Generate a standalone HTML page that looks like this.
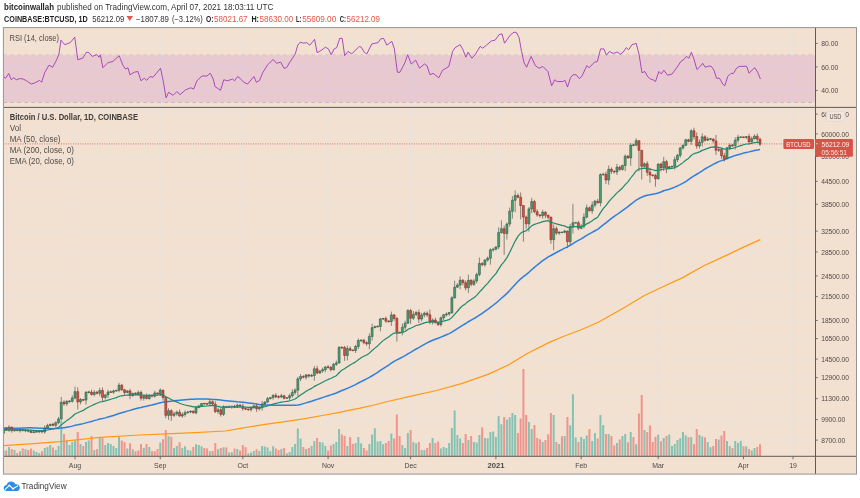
<!DOCTYPE html>
<html><head><meta charset="utf-8"><title>BTCUSD chart</title>
<style>
html,body{margin:0;padding:0;background:#fff}
body{width:860px;height:498px;position:relative;overflow:hidden;font-family:"Liberation Sans",sans-serif}
</style></head><body>
<svg width="860" height="498" viewBox="0 0 860 498" style="position:absolute;left:0;top:0">
<rect x="3.4" y="27.6" width="853.1" height="446.5" fill="#f2e0d0"/>
<path d="M75 27.6V456.3M160.28 27.6V456.3M242.81 27.6V456.3M328.09 27.6V456.3M410.62 27.6V456.3M495.9 27.6V456.3M581.18 27.6V456.3M658.21 27.6V456.3M743.49 27.6V456.3M793.01 27.6V456.3M3.4 114.05H815.5M3.4 133.9H815.5M3.4 156.59H815.5M3.4 181.29H815.5M3.4 204.26H815.5M3.4 231.12H815.5M3.4 251.95H815.5M3.4 275.93H815.5M3.4 296.64H815.5M3.4 320.47H815.5M3.4 338.61H815.5M3.4 359.1H815.5M3.4 377.64H815.5M3.4 398.64H815.5M3.4 419.61H815.5M3.4 440.1H815.5M3.4 43.4H815.5M3.4 66.9H815.5M3.4 90.4H815.5" stroke="#e9e2dd" stroke-width="1.15" fill="none"/>
<rect x="3.4" y="55.15" width="812.1" height="47" fill="rgba(175,40,215,0.12)"/>
<path d="M3.4 54.75H815.5" stroke="#cdc6ca" stroke-width="0.9" stroke-dasharray="3.5 3.5" fill="none"/>
<path d="M3.4 102.45H815.5" stroke="#b3b4c9" stroke-width="0.9" stroke-dasharray="3.5 3.5" fill="none"/>
<clipPath id="cp"><rect x="3.9" y="27.6" width="811.6" height="428.7"/></clipPath><g clip-path="url(#cp)">
<polyline fill="none" stroke="#a23bb8" stroke-width="0.9" stroke-linejoin="round" points="3.51,76.52 5.52,78.27 8.78,73.51 11.29,79.78 13.8,77.77 16.31,79.78 20.07,78.52 23.83,79.28 27.6,81.54 31.36,84.04 35.12,82.79 39.64,80.28 41.65,82.29 44.66,72.75 48.92,65.23 52.68,67.24 56.45,60.21 58.96,53.94 60.96,40.14 64.73,44.66 70.25,42.65 74.76,37.13 77.77,59.71 82.79,58.2 86.55,52.18 89.06,52.68 92.32,56.45 96.59,54.69 99.1,57.2 100.35,54.69 102.86,67.74 107.88,62.72 112.9,61.47 119.17,55.69 122.93,65.23 125.44,68.99 127.95,67.74 129.95,74.76 134.22,72.25 137.98,71.5 140.99,80.78 144.25,78.27 146.76,80.28 150.03,76.52 153.04,77.27 156.8,72.75 160.56,68.24 163.07,80.28 166.08,97.84 168.59,92.32 173.11,95.33 176.87,91.57 180.13,94.58 185.65,89.81 190.67,87.81 193.68,89.06 196.94,80.78 201.96,76.02 206.97,76.02 210.24,73.26 213.25,79.03 215,86.55 217.51,88.31 220.52,90.32 223.78,79.78 227.54,80.78 232.56,79.03 234.57,80.78 237.58,76.52 240.09,78.27 243.85,82.29 247.61,84.04 253.89,76.52 256.39,82.29 259.66,80.28 262.67,72.75 267.68,64.73 273.2,59.46 276.47,63.22 280.73,62.22 283.99,68.24 286.5,67.74 290.26,61.47 295.28,53.94 297.79,45.16 300.3,42.15 303.31,43.15 306.57,42.65 309.83,45.16 314.6,39.39 317.11,52.68 321.62,50.18 325.39,47.17 328.4,48.92 331.16,54.69 334.17,48.92 336.68,47.67 339.69,38.38 342.2,38.38 344.7,55.69 347.97,51.43 351.73,53.94 355.49,50.18 359.25,46.41 361.26,47.17 364.27,52.18 366.78,53.94 371.8,43.9 378.07,42.65 380.58,38.89 383.59,38.38 386.85,45.16 391.87,41.39 394.38,48.92 397.39,72.25 399.9,72.25 404.91,62.72 407.67,54.69 411.19,63.97 415.7,60.21 419.47,68.24 424.48,63.97 426.99,65.73 430,74.76 433.01,73.26 438.78,77.77 442.54,70.25 448.82,66.48 452.58,51.43 455.09,47.67 460.11,44.66 462.61,48.92 465.88,57.2 468.13,52.18 471.9,58.2 475.16,54.69 480.18,46.41 482.68,48.17 486.45,45.16 491.47,40.89 495.23,40.14 498.99,34.62 502,33.87 504.51,43.15 510.28,35.12 514.04,32.11 516.55,32.61 519.06,37.63 521.57,51.43 524.08,62.72 526.59,67.24 531.1,56.45 535.37,65.73 539.13,68.24 542.9,66.48 547.91,71.5 551.68,85.8 554.69,79.78 557.2,81.54 562.97,81.54 564.97,80.28 567.48,87.05 570.49,77.77 573,74.76 576.26,74.76 579.27,78.52 581.78,76.52 586.8,65.73 589.31,67.74 594.33,62.22 597.34,61.47 600.6,48.92 603.86,48.92 606.37,55.19 609.38,51.43 613.14,53.44 617.66,51.93 619.91,54.44 623.18,52.18 626.19,47.67 628.7,49.67 631.96,44.66 636.22,43.4 638.98,53.94 641.99,72.75 645,71.5 647.51,76.52 650.52,79.03 653.03,79.78 655.54,81.54 658.8,71.5 661.31,74.01 663.82,70.25 667.58,75.26 672.09,74.01 676.36,68.24 680.88,61.47 683.89,59.46 686.39,56.45 688.9,58.2 691.41,52.18 693.92,58.96 696.93,69.49 700.19,66.48 702.7,63.22 705.21,67.24 708.97,65.98 711.48,66.48 713.99,70.25 716.5,78.27 719.51,78.27 722.77,84.04 724.78,85.8 727.79,76.52 731.05,73.26 733.31,73.51 736.57,68.24 739.08,66.48 746.61,66.23 749.11,73.26 752.38,69.74 754.88,67.74 757.9,72.75 760.4,79.03"/>
<path d="M2.47 456.3v-6h2v6zM7.98 456.3v-9.4h2v9.4zM13.48 456.3v-6.2h2v6.2zM18.98 456.3v-5h2v5zM24.48 456.3v-7h2v7zM32.73 456.3v-5.8h2v5.8zM35.49 456.3v-4.4h2v4.4zM38.24 456.3v-3.4h2v3.4zM43.74 456.3v-8.4h2v8.4zM46.49 456.3v-9.4h2v9.4zM49.24 456.3v-11.4h2v11.4zM54.74 456.3v-6.4h2v6.4zM57.49 456.3v-10.4h2v10.4zM60.25 456.3v-36h2v36zM65.75 456.3v-15.8h2v15.8zM68.5 456.3v-11.4h2v11.4zM71.25 456.3v-14.4h2v14.4zM74 456.3v-15.8h2v15.8zM79.5 456.3v-12.4h2v12.4zM85 456.3v-14.4h2v14.4zM87.75 456.3v-15.8h2v15.8zM93.26 456.3v-6.4h2v6.4zM98.76 456.3v-19.4h2v19.4zM104.26 456.3v-11.4h2v11.4zM107.01 456.3v-13.4h2v13.4zM109.76 456.3v-12.4h2v12.4zM112.51 456.3v-10.4h2v10.4zM115.27 456.3v-8.4h2v8.4zM118.02 456.3v-20.4h2v20.4zM126.27 456.3v-7.8h2v7.8zM131.77 456.3v-7h2v7zM142.77 456.3v-8.4h2v8.4zM148.28 456.3v-9.4h2v9.4zM159.28 456.3v-13.8h2v13.8zM167.53 456.3v-20.4h2v20.4zM173.04 456.3v-8.4h2v8.4zM175.79 456.3v-10.4h2v10.4zM181.29 456.3v-8.4h2v8.4zM184.04 456.3v-10h2v10zM186.79 456.3v-6.4h2v6.4zM189.54 456.3v-5.8h2v5.8zM195.04 456.3v-12h2v12zM197.8 456.3v-11.4h2v11.4zM200.55 456.3v-10h2v10zM208.8 456.3v-5h2v5zM217.05 456.3v-7h2v7zM222.55 456.3v-9h2v9zM228.06 456.3v-3.8h2v3.8zM230.81 456.3v-4h2v4zM236.31 456.3v-7.4h2v7.4zM247.31 456.3v-3h2v3zM250.06 456.3v-3.8h2v3.8zM252.81 456.3v-5.4h2v5.4zM258.32 456.3v-5.4h2v5.4zM261.07 456.3v-10.4h2v10.4zM263.82 456.3v-9.8h2v9.8zM266.57 456.3v-8.8h2v8.8zM269.32 456.3v-5h2v5zM272.07 456.3v-10h2v10zM280.32 456.3v-7.4h2v7.4zM285.83 456.3v-3h2v3zM288.58 456.3v-4.4h2v4.4zM291.33 456.3v-9.4h2v9.4zM294.08 456.3v-12.4h2v12.4zM296.83 456.3v-27.8h2v27.8zM299.58 456.3v-17.8h2v17.8zM305.08 456.3v-7.4h2v7.4zM310.59 456.3v-10.4h2v10.4zM313.34 456.3v-15.4h2v15.4zM318.84 456.3v-14.4h2v14.4zM321.59 456.3v-13.8h2v13.8zM324.34 456.3v-10.4h2v10.4zM332.59 456.3v-12.4h2v12.4zM335.34 456.3v-14.4h2v14.4zM338.1 456.3v-27.4h2v27.4zM346.35 456.3v-10.4h2v10.4zM354.6 456.3v-13.4h2v13.4zM357.35 456.3v-19.4h2v19.4zM360.1 456.3v-13h2v13zM368.36 456.3v-12.4h2v12.4zM371.11 456.3v-21.8h2v21.8zM373.86 456.3v-28h2v28zM376.61 456.3v-14.8h2v14.8zM379.36 456.3v-15.4h2v15.4zM382.11 456.3v-12h2v12zM390.37 456.3v-22.8h2v22.8zM401.37 456.3v-11.4h2v11.4zM404.12 456.3v-8.4h2v8.4zM406.87 456.3v-23.4h2v23.4zM412.37 456.3v-14.4h2v14.4zM415.12 456.3v-13h2v13zM420.63 456.3v-6.4h2v6.4zM423.38 456.3v-6.4h2v6.4zM431.63 456.3v-18.4h2v18.4zM439.88 456.3v-7.8h2v7.8zM442.63 456.3v-9.4h2v9.4zM445.38 456.3v-8.4h2v8.4zM448.14 456.3v-13.4h2v13.4zM450.89 456.3v-28.4h2v28.4zM453.64 456.3v-45.8h2v45.8zM456.39 456.3v-21.4h2v21.4zM459.14 456.3v-17.8h2v17.8zM467.39 456.3v-16.4h2v16.4zM472.89 456.3v-14.4h2v14.4zM475.65 456.3v-13.8h2v13.8zM478.4 456.3v-21.4h2v21.4zM483.9 456.3v-18.4h2v18.4zM486.65 456.3v-18h2v18zM489.4 456.3v-24.4h2v24.4zM492.15 456.3v-24.8h2v24.8zM494.9 456.3v-19.4h2v19.4zM497.65 456.3v-40.4h2v40.4zM500.4 456.3v-32h2v32zM505.91 456.3v-36.8h2v36.8zM508.66 456.3v-39h2v39zM511.41 456.3v-43.4h2v43.4zM514.16 456.3v-41.4h2v41.4zM527.91 456.3v-34.4h2v34.4zM530.67 456.3v-27.4h2v27.4zM541.67 456.3v-14.4h2v14.4zM552.67 456.3v-41.4h2v41.4zM558.18 456.3v-12.4h2v12.4zM563.68 456.3v-20.4h2v20.4zM569.18 456.3v-31h2v31zM571.93 456.3v-62h2v62zM574.68 456.3v-18.8h2v18.8zM580.18 456.3v-19.4h2v19.4zM582.93 456.3v-17.4h2v17.4zM585.69 456.3v-20.8h2v20.8zM591.19 456.3v-15.4h2v15.4zM593.94 456.3v-23.4h2v23.4zM599.44 456.3v-41.4h2v41.4zM602.19 456.3v-31.4h2v31.4zM607.69 456.3v-22.4h2v22.4zM615.95 456.3v-13.4h2v13.4zM621.45 456.3v-20.4h2v20.4zM624.2 456.3v-22.4h2v22.4zM629.7 456.3v-24.4h2v24.4zM635.2 456.3v-12h2v12zM643.46 456.3v-26.4h2v26.4zM657.21 456.3v-21.6h2v21.6zM662.71 456.3v-18.4h2v18.4zM668.22 456.3v-21.8h2v21.8zM670.97 456.3v-10.4h2v10.4zM673.72 456.3v-12.4h2v12.4zM676.47 456.3v-16.4h2v16.4zM679.22 456.3v-18h2v18zM681.97 456.3v-24.4h2v24.4zM684.72 456.3v-21h2v21zM690.22 456.3v-19.4h2v19.4zM698.48 456.3v-21.4h2v21.4zM701.23 456.3v-19.8h2v19.8zM706.73 456.3v-14.4h2v14.4zM709.48 456.3v-9h2v9zM717.73 456.3v-16.8h2v16.8zM725.99 456.3v-15.4h2v15.4zM728.74 456.3v-10.4h2v10.4zM734.24 456.3v-15.4h2v15.4zM736.99 456.3v-13.4h2v13.4zM739.74 456.3v-15.4h2v15.4zM745.24 456.3v-10h2v10zM750.75 456.3v-5.8h2v5.8zM753.5 456.3v-8.4h2v8.4z" fill="#86c2b3"/>
<path d="M5.23 456.3v-5.8h2v5.8zM10.73 456.3v-7.4h2v7.4zM16.23 456.3v-3.4h2v3.4zM21.73 456.3v-7.8h2v7.8zM27.23 456.3v-6.4h2v6.4zM29.98 456.3v-7.8h2v7.8zM40.99 456.3v-5h2v5zM51.99 456.3v-8.8h2v8.8zM63 456.3v-22.4h2v22.4zM76.75 456.3v-24.4h2v24.4zM82.25 456.3v-10.4h2v10.4zM90.51 456.3v-20.4h2v20.4zM96.01 456.3v-7h2v7zM101.51 456.3v-18.4h2v18.4zM120.77 456.3v-15.8h2v15.8zM123.52 456.3v-14.4h2v14.4zM129.02 456.3v-13h2v13zM134.52 456.3v-5h2v5zM137.27 456.3v-5.8h2v5.8zM140.02 456.3v-12.4h2v12.4zM145.53 456.3v-12.4h2v12.4zM151.03 456.3v-5h2v5zM153.78 456.3v-5h2v5zM156.53 456.3v-7.4h2v7.4zM162.03 456.3v-17h2v17zM164.78 456.3v-26.4h2v26.4zM170.28 456.3v-19.4h2v19.4zM178.54 456.3v-14h2v14zM192.29 456.3v-9.4h2v9.4zM203.3 456.3v-8.4h2v8.4zM206.05 456.3v-7.8h2v7.8zM211.55 456.3v-5.4h2v5.4zM214.3 456.3v-13.4h2v13.4zM219.8 456.3v-8.4h2v8.4zM225.31 456.3v-8.8h2v8.8zM233.56 456.3v-7.8h2v7.8zM239.06 456.3v-5.8h2v5.8zM241.81 456.3v-11.4h2v11.4zM244.56 456.3v-9h2v9zM255.57 456.3v-7h2v7zM274.82 456.3v-7.8h2v7.8zM277.57 456.3v-6.4h2v6.4zM283.08 456.3v-8.4h2v8.4zM302.33 456.3v-9.4h2v9.4zM307.83 456.3v-8.4h2v8.4zM316.09 456.3v-18.4h2v18.4zM327.09 456.3v-5.8h2v5.8zM329.84 456.3v-10.8h2v10.8zM340.85 456.3v-21.8h2v21.8zM343.6 456.3v-20.4h2v20.4zM349.1 456.3v-19.4h2v19.4zM351.85 456.3v-12.4h2v12.4zM362.85 456.3v-8.4h2v8.4zM365.61 456.3v-5.8h2v5.8zM384.86 456.3v-13.4h2v13.4zM387.61 456.3v-15.4h2v15.4zM393.12 456.3v-17.8h2v17.8zM395.87 456.3v-41.8h2v41.8zM398.62 456.3v-20.4h2v20.4zM409.62 456.3v-26.4h2v26.4zM417.88 456.3v-14.4h2v14.4zM426.13 456.3v-8.4h2v8.4zM428.88 456.3v-13.4h2v13.4zM434.38 456.3v-13.4h2v13.4zM437.13 456.3v-14.8h2v14.8zM461.89 456.3v-13.4h2v13.4zM464.64 456.3v-22.4h2v22.4zM470.14 456.3v-20.4h2v20.4zM481.15 456.3v-29h2v29zM503.16 456.3v-39.4h2v39.4zM516.91 456.3v-23.4h2v23.4zM519.66 456.3v-37.8h2v37.8zM522.41 456.3v-87.4h2v87.4zM525.16 456.3v-41.4h2v41.4zM533.42 456.3v-31.4h2v31.4zM536.17 456.3v-18.4h2v18.4zM538.92 456.3v-17h2v17zM544.42 456.3v-16.4h2v16.4zM547.17 456.3v-22h2v22zM549.92 456.3v-43.4h2v43.4zM555.42 456.3v-14.4h2v14.4zM560.93 456.3v-20h2v20zM566.43 456.3v-39.4h2v39.4zM577.43 456.3v-14.4h2v14.4zM588.44 456.3v-27.4h2v27.4zM596.69 456.3v-17.8h2v17.8zM604.94 456.3v-22.4h2v22.4zM610.44 456.3v-20.4h2v20.4zM613.2 456.3v-10.8h2v10.8zM618.7 456.3v-16.8h2v16.8zM626.95 456.3v-14h2v14zM632.45 456.3v-19.4h2v19.4zM637.95 456.3v-42.8h2v42.8zM640.71 456.3v-61.4h2v61.4zM646.21 456.3v-24.4h2v24.4zM648.96 456.3v-30.8h2v30.8zM651.71 456.3v-14.4h2v14.4zM654.46 456.3v-19.6h2v19.6zM659.96 456.3v-15h2v15zM665.47 456.3v-20.4h2v20.4zM687.47 456.3v-19h2v19zM692.98 456.3v-12.4h2v12.4zM695.73 456.3v-27.4h2v27.4zM703.98 456.3v-18.8h2v18.8zM712.23 456.3v-10.4h2v10.4zM714.98 456.3v-17.4h2v17.4zM720.49 456.3v-20.8h2v20.8zM723.24 456.3v-25.4h2v25.4zM731.49 456.3v-8.4h2v8.4zM742.49 456.3v-10h2v10zM748 456.3v-7.4h2v7.4zM756.25 456.3v-9.4h2v9.4zM759 456.3v-12h2v12z" fill="#f0948d"/>
<polyline fill="none" stroke="#ff9a16" stroke-width="1.25" stroke-linejoin="round" points="3.5,445.6 30,443.8 60,441.6 100,437.4 140,435 172,433.6 195,432.6 225,431 245,427.6 265,424.4 285,421.6 305,418.6 325,415 337,412.8 350,410.2 360,408.2 374,405 385.6,402 411.2,396.2 436.7,390.5 462.3,383.4 487.9,374.4 508.4,365 526.3,354 549.3,342.4 564.6,336 580.5,330 598.4,322.3 624,307.7 644.4,295.5 662.3,287 682.8,277.6 703.3,266 723.7,256.6 744.2,246.9 760.3,239.6"/>
<polyline fill="none" stroke="#2f7fdc" stroke-width="1.5" stroke-linejoin="round" points="3.47,427.95 6.23,428.11 8.98,428.23 11.73,428.32 14.48,428.25 17.23,428.22 19.98,428.18 22.73,428.01 25.48,427.89 28.23,427.77 30.98,427.79 33.73,427.93 36.49,428.01 39.24,428.18 41.99,428.27 44.74,428.55 47.49,428.54 50.24,428.56 52.99,428.64 55.74,428.61 58.49,428.52 61.25,428.08 64,427.69 66.75,427.24 69.5,426.82 72.25,426.13 75,425.35 77.75,424.82 80.5,424.19 83.25,423.61 86,422.88 88.75,422.13 91.51,421.41 94.26,420.61 97.01,419.86 99.76,419.03 102.51,418.49 105.26,417.87 108.01,417.08 110.76,416.29 113.51,415.45 116.27,414.54 119.02,413.57 121.77,412.72 124.52,411.92 127.27,411.12 130.02,410.38 132.77,409.59 135.52,408.83 138.27,408.04 141.02,407.45 143.77,406.79 146.53,406.24 149.28,405.56 152.03,404.92 154.78,404.2 157.53,403.52 160.28,402.74 163.03,402.13 165.78,401.85 168.53,401.47 171.28,401.18 174.04,400.87 176.79,400.54 179.54,400.26 182.29,400.03 185.04,399.8 187.79,399.58 190.54,399.32 193.29,399.15 196.04,398.94 198.8,399.01 201.55,399.01 204.3,399.06 207.05,399.11 209.8,399.18 212.55,399.43 215.3,399.62 218.05,399.82 220.8,400.09 223.55,400.38 226.31,400.68 229.06,400.93 231.81,401.21 234.56,401.5 237.31,401.8 240.06,401.97 242.81,402.25 245.56,402.59 248.31,402.94 251.06,403.29 253.81,403.61 256.57,404.11 259.32,404.48 262.07,404.72 264.82,404.96 267.57,405.02 270.32,405.11 273.07,405.15 275.82,405.24 278.57,405.21 281.32,405.2 284.08,405.2 286.83,405.25 289.58,405.24 292.33,405.23 295.08,405.15 297.83,404.9 300.58,404.43 303.33,403.63 306.08,402.86 308.83,402.04 311.59,401.23 314.34,400.31 317.09,399.41 319.84,398.5 322.59,397.6 325.34,396.66 328.09,395.74 330.84,394.85 333.59,393.94 336.34,393.02 339.1,391.77 341.85,390.52 344.6,389.48 347.35,388.32 350.1,387.16 352.85,385.89 355.6,384.56 358.35,383.01 361.1,381.59 363.85,380.23 366.61,378.93 369.36,377.46 372.11,375.76 374.86,374.08 377.61,372.39 380.36,370.49 383.11,368.59 385.86,366.77 388.61,365.01 391.37,363.12 394.12,361.31 396.87,359.88 399.62,358.52 402.37,357.07 405.12,355.59 407.87,353.82 410.62,352.29 413.37,350.67 416.12,349.01 418.88,347.55 421.63,345.97 424.38,344.36 427.13,342.84 429.88,341.55 432.63,340.26 435.38,339.2 438.13,338.23 440.88,337.11 443.63,335.96 446.38,334.79 449.14,333.6 451.89,332.17 454.64,330.42 457.39,328.66 460.14,326.82 462.89,325.1 465.64,323.52 468.39,321.74 471.14,320.16 473.89,318.53 476.65,316.99 479.4,315.18 482.15,313.29 484.9,311.4 487.65,309.47 490.4,307.31 493.15,305.23 495.9,303.2 498.65,300.78 501.4,298.24 504.16,295.87 506.91,293.35 509.66,290.61 512.41,287.56 515.16,284.41 517.91,281.49 520.66,278.9 523.41,276.66 526.16,274.64 528.91,272.32 531.67,269.75 534.42,267.33 537.17,265.04 539.92,262.86 542.67,260.68 545.42,258.79 548.17,256.85 550.92,255.53 553.67,254 556.42,252.49 559.18,251.03 561.93,249.61 564.68,248.16 567.43,246.85 570.18,245.26 572.93,243.56 575.68,241.86 578.43,240.37 581.18,238.9 583.93,237.24 586.69,235.41 589.44,233.85 592.19,232.32 594.94,230.74 597.69,229.29 600.44,227.09 603.19,224.85 605.94,222.89 608.69,220.61 611.44,218.46 614.2,216.45 616.95,214.49 619.7,212.6 622.45,210.69 625.2,208.58 627.95,206.67 630.7,204.44 633.45,202.27 636.2,200.22 638.95,198.54 641.71,197.2 644.46,195.97 647.21,195.17 649.96,194.64 652.71,194.21 655.46,193.83 658.21,192.95 660.96,191.96 663.71,190.72 666.47,189.9 669.22,189.18 671.97,188.27 674.72,187.16 677.47,185.94 680.22,184.6 682.97,183.16 685.72,181.56 688.47,179.68 691.22,177.7 693.98,175.84 696.73,174.24 699.48,172.57 702.23,170.8 704.98,168.99 707.73,167.37 710.48,165.82 713.23,164.33 715.98,162.99 718.73,161.67 721.49,160.62 724.24,159.77 726.99,158.65 729.74,157.57 732.49,156.56 735.24,155.41 737.99,154.67 740.74,153.93 743.49,153.1 746.24,152.45 749,151.87 751.75,151.22 754.5,150.6 757.25,150.01 760,149.6"/>
<path d="M3.4 143.9H815.5" stroke="#e0675e" stroke-width="0.9" stroke-dasharray="1 1.4" fill="none"/>
<path d="M3.47 426.92V434.6M8.98 425.23V431.82M14.48 429.29V431.74M19.98 428.32V432.52M25.48 429.13V432.18M33.73 430.49V433.14M36.49 431.15V432.51M39.24 430.21V433.28M44.74 425.34V433.72M47.49 423.72V428.66M50.24 423.75V426.33M55.74 421.36V427.33M58.49 416.97V424.26M61.25 396.96V419.77M66.75 400.2V405.78M69.5 400.3V402.74M72.25 395.31V402.7M75 386.68V399.4M80.5 398.06V404.2M86 391V404.57M88.75 390.79V393.38M94.26 390.16V396.36M99.76 387.81V396.33M105.26 394.2V399.61M108.01 389.73V398.08M113.51 389.78V393.82M116.27 389.92V391.95M119.02 382.89V392.18M127.27 390.22V393.3M132.77 392.72V396.93M138.27 390.51V395.85M143.77 395.02V400.61M149.28 394.21V399.76M154.78 390.68V397.56M160.28 388.37V396.07M168.53 408.18V419.93M174.04 411.74V417.08M176.79 410.66V415.69M182.29 412.34V417.92M185.04 410.35V416.65M187.79 410.89V413.64M190.54 410.59V413.25M196.04 405.98V414.32M198.8 404.84V408.15M201.55 403.02V406.86M209.8 399.91V404.68M218.05 407.69V413.96M223.55 405.19V415.94M229.06 405.26V408.03M231.81 405.79V408.68M237.31 403.52V407.94M251.06 406.17V411.62M253.81 404.73V408.68M259.32 405.89V410.57M262.07 400.91V410.64M264.82 401.16V405.57M267.57 396.99V402.85M270.32 397.15V399.52M273.07 394.28V399.68M281.32 393.7V398.02M286.83 397.09V398.94M289.58 393.89V400.19M292.33 389.44V397.7M295.08 388.19V394.71M297.83 376.82V396.13M300.58 374.02V381.2M306.08 373.96V379.57M311.59 373.85V376.89M314.34 366.05V380.81M319.84 370.11V373.89M322.59 367.64V372.78M325.34 366.01V372.32M333.59 362.99V370.58M336.34 360.68V365.99M339.1 345.99V363.65M347.35 345.73V360.35M355.6 345V352.96M358.35 338.55V349.06M361.1 339.65V342.09M369.36 333.46V349.22M372.11 323.78V340.6M374.86 325.47V328.07M377.61 325.49V327.29M380.36 317.83V331.34M383.11 318.03V319.92M391.37 311.57V325.93M402.37 323.52V335.35M405.12 320.7V330.32M407.87 309.22V323.94M413.37 311.06V320.18M416.12 310.82V315.96M421.63 312.87V321.51M424.38 311.67V317.46M432.63 318.42V324.53M440.88 316.52V326.62M443.63 313.99V320.23M446.38 312.33V316.62M449.14 311.9V315.73M451.89 296.2V313.92M454.64 280.72V298.64M457.39 283.1V287.98M460.14 276.36V289.28M468.39 274.71V292.91M473.89 278.92V285.96M476.65 272.79V283.32M479.4 257.53V276.19M484.9 259.2V266.75M487.65 256.53V261.58M490.4 248.36V264.68M493.15 247.7V251.72M495.9 246.2V250.38M498.65 227.26V249.19M501.4 220.28V233.58M506.91 222.42V239.49M509.66 207.59V226.61M512.41 196.15V218.67M515.16 190.46V212.28M528.91 206.96V231.71M531.67 197.93V213.27M542.67 209.71V218.62M553.67 224.43V250.29M559.18 231.12V234.92M561.93 231.73V232.79M564.68 229.76V233.19M570.18 223.97V245.02M572.93 203.84V233.58M575.68 222.4V223.35M581.18 224.1V229.34M583.93 213.15V228.48M586.69 204.59V218.52M592.19 201.39V213.83M594.94 199.93V207.23M600.44 173.3V206.33M603.19 172.86V175.59M608.69 165.4V184.77M616.95 163.95V174.97M622.45 164.66V170.55M625.2 154.44V171.11M630.7 142.85V165.88M633.45 143.77V146.24M636.2 138.32V146.26M644.46 162.53V167.49M658.21 163.29V179.52M663.71 156.89V171M669.22 165.84V169.21M671.97 166V167.72M674.72 156.64V169.55M677.47 153.99V162.05M680.22 146.89V157.71M682.97 144.47V149.56M685.72 138.8V146.22M691.22 129.21V144.84M699.48 139.47V148.6M702.23 133.3V146.56M707.73 136.83V140.92M710.48 137.83V140.09M718.73 148.08V151.96M726.99 147.27V159.05M729.74 143.55V150.22M735.24 137.31V149.54M737.99 134.87V142.67M740.74 136.51V137.58M746.24 136.1V138.99M751.75 136.49V144.17M754.5 134.43V139.3" stroke="#6a6f69" stroke-width="0.8" fill="none"/>
<path d="M6.23 427.09V430.82M11.73 426.43V432.7M17.23 429.24V431.17M22.73 428.86V431.36M28.23 428.94V432.36M30.98 429.21V432.88M41.99 430.37V433.2M52.99 422.73V426.45M64 400.16V405.7M77.75 387.4V409.53M83.25 398.98V401.2M91.51 389.58V395.75M97.01 390.85V394.52M102.51 387.5V401.28M110.76 390.58V392.86M121.77 383.89V390.92M124.52 389.07V394.81M130.02 388.88V399.09M135.52 392.29V395.39M141.02 390.52V400.7M146.53 393.63V399.36M152.03 394.55V397.38M157.53 392.54V394.78M163.03 389.77V400.62M165.78 396.27V418.18M171.28 409.23V420.9M179.54 409.54V416.81M193.29 410.52V413.48M204.3 403.11V404.57M207.05 403.45V405.26M212.55 400.68V405.29M215.3 401.29V413.12M220.8 407.58V416.68M226.31 405.8V408.22M234.56 404.84V408.04M240.06 403.99V408.1M242.81 403.6V410.63M245.56 407.72V410.08M248.31 408.6V410.95M256.57 403.26V411.9M275.82 393.11V398.21M278.57 395.42V398.52M284.08 394.72V399.38M303.33 375.12V378.29M308.83 373.93V377.79M317.09 365.82V374.3M328.09 365.24V368.62M330.84 366.03V371.46M341.85 346.55V349.03M344.6 345.89V360.86M350.1 346.57V351.09M352.85 349.58V351.13M363.85 338.78V344.29M366.61 341.23V345.79M385.86 316.36V322.93M388.61 320.27V322.58M394.12 313.95V320.79M396.87 316.99V341.52M399.62 331.87V333.23M410.62 308.78V323.94M418.88 309.52V322.98M427.13 311.31V317M429.88 309.65V324.22M435.38 317.55V323.51M438.13 321.89V325.97M462.89 279.13V285.53M465.64 280.5V290.37M471.14 279.17V286.39M482.15 262.13V266.02M504.16 225.61V254.75M517.91 193.48V198.23M520.66 192.55V219.37M523.41 205.21V241.71M526.16 215.53V228.69M534.42 199.8V213.27M537.17 209.16V216.69M539.92 214.42V217.51M545.42 211.32V218.15M548.17 214.63V219.48M550.92 216.67V243.81M556.42 226.52V234.92M567.43 230.63V248.1M578.43 220.77V230.2M589.44 206.56V211.41M597.69 198.91V203.49M605.94 171.59V184.14M611.44 167.33V173.89M614.2 170.4V173.6M619.7 165.71V170.77M627.95 155.15V158.68M638.95 140.51V171.28M641.71 150.02V179.52M647.21 161.16V175.78M649.96 167.8V182.72M652.71 174.43V176.51M655.46 173.81V186.73M660.96 162.65V171.31M666.47 159.77V173.12M688.47 138.8V142.23M693.98 127.66V139.5M696.73 132.32V148.85M704.98 135.13V141.78M713.23 138.43V143.19M715.98 134.99V155M721.49 148.12V158.69M724.24 152.82V161.55M732.49 143.92V146.79M743.49 136.62V138.11M749 133.85V144.82M757.25 133.5V141.8M760 137.56V145.95" stroke="#75635e" stroke-width="0.8" fill="none"/>
<path d="M2.47 428.76h2V433.32h-2zM7.98 427.22h2V430.24h-2zM13.48 429.73h2V430.64h-2zM18.98 429.48h2V430.64h-2zM24.48 430.08h2V430.78h-2zM32.73 431.86h2V432.56h-2zM35.49 431.5h2V432.2h-2zM38.24 431h2V431.7h-2zM43.74 427.97h2V431.88h-2zM46.49 425.54h2V427.97h-2zM49.24 424.28h2V425.54h-2zM54.74 422.69h2V425.32h-2zM57.49 418.97h2V422.69h-2zM60.25 402.19h2V418.97h-2zM65.75 401.33h2V403.85h-2zM68.5 400.94h2V401.64h-2zM71.25 397.94h2V401.26h-2zM74 391.64h2V397.94h-2zM79.5 399.55h2V401.9h-2zM85 392.31h2V400.12h-2zM87.75 391.86h2V392.56h-2zM93.26 392.24h2V394.48h-2zM98.76 390.5h2V393.33h-2zM104.26 394.89h2V397.38h-2zM107.01 391.98h2V394.89h-2zM112.51 390.9h2V392.18h-2zM115.27 390.25h2V390.95h-2zM118.02 385.19h2V390.3h-2zM126.27 390.9h2V392.38h-2zM131.77 393.39h2V395.44h-2zM137.27 392.45h2V393.8h-2zM142.77 396.27h2V398.22h-2zM148.28 395.31h2V398.5h-2zM153.78 392.92h2V396.2h-2zM159.28 390.1h2V393.73h-2zM167.53 410.74h2V415.35h-2zM173.04 413.95h2V415.35h-2zM175.79 412.18h2V413.95h-2zM181.29 414.49h2V415.97h-2zM184.04 412.64h2V414.49h-2zM186.79 411.88h2V412.64h-2zM189.54 411.12h2V411.88h-2zM195.04 407.59h2V412.87h-2zM197.8 405.96h2V407.59h-2zM200.55 403.56h2V405.96h-2zM208.8 401.76h2V403.85h-2zM217.05 409.83h2V411.5h-2zM222.55 406.7h2V414.34h-2zM228.06 406.79h2V407.49h-2zM230.81 406.16h2V406.86h-2zM236.31 405.23h2V407.36h-2zM250.06 407.74h2V409.53h-2zM252.81 405.89h2V407.74h-2zM258.32 407.74h2V408.78h-2zM261.07 403.99h2V407.74h-2zM263.82 402.12h2V403.99h-2zM266.57 398.64h2V402.12h-2zM269.32 397.59h2V398.64h-2zM272.07 395.38h2V397.59h-2zM280.32 395.79h2V396.96h-2zM285.83 397.66h2V398.36h-2zM288.58 395.72h2V397.73h-2zM291.33 392.38h2V395.72h-2zM294.08 390.17h2V392.38h-2zM296.83 378.87h2V390.17h-2zM299.58 376.6h2V378.87h-2zM305.08 374.9h2V377.21h-2zM310.59 375.43h2V376.13h-2zM313.34 368.8h2V375.56h-2zM318.84 370.9h2V373.04h-2zM321.59 369.67h2V370.9h-2zM324.34 366.95h2V369.67h-2zM332.59 364.33h2V369.67h-2zM335.34 362.92h2V364.33h-2zM338.1 347.51h2V362.92h-2zM346.35 348.63h2V355.43h-2zM354.6 346.44h2V350.43h-2zM357.35 340.5h2V346.44h-2zM360.1 339.98h2V340.68h-2zM368.36 336.46h2V343.79h-2zM371.11 327.66h2V336.46h-2zM373.86 326.72h2V327.66h-2zM376.61 326.21h2V326.91h-2zM379.36 318.93h2V326.41h-2zM382.11 318.41h2V319.11h-2zM390.37 314.91h2V321.5h-2zM401.37 327.21h2V332.58h-2zM404.12 323.15h2V327.21h-2zM406.87 310.5h2V323.15h-2zM412.37 314.42h2V318.17h-2zM415.12 312.57h2V314.42h-2zM420.63 314.99h2V319.1h-2zM423.38 313.14h2V314.99h-2zM431.63 320.08h2V322.02h-2zM439.88 317.83h2V324.55h-2zM442.63 314.79h2V317.83h-2zM445.38 313.96h2V314.79h-2zM448.14 312.61h2V313.96h-2zM450.89 297.75h2V312.61h-2zM453.64 287.16h2V297.75h-2zM456.39 285.05h2V287.16h-2zM459.14 280.19h2V285.05h-2zM467.39 280.36h2V287.82h-2zM472.89 280.99h2V284.37h-2zM475.65 274.57h2V280.99h-2zM478.4 263.54h2V274.57h-2zM483.9 260.05h2V264.81h-2zM486.65 258.27h2V260.05h-2zM489.4 249.87h2V258.27h-2zM492.15 249.21h2V249.91h-2zM494.9 246.96h2V249.24h-2zM497.65 232.59h2V246.96h-2zM500.4 228.7h2V232.59h-2zM505.91 223.97h2V233.58h-2zM508.66 211.2h2V223.97h-2zM511.41 200.27h2V211.2h-2zM514.16 195.56h2V200.27h-2zM527.91 208.89h2V223.78h-2zM530.67 201.6h2V208.89h-2zM541.67 212.15h2V215.65h-2zM552.67 228.7h2V239.64h-2zM558.18 232.34h2V233.08h-2zM560.93 231.99h2V232.69h-2zM563.68 231.12h2V232.34h-2zM569.18 226.79h2V241.71h-2zM571.93 222.8h2V226.79h-2zM574.68 222.43h2V223.13h-2zM580.18 226.22h2V228.22h-2zM582.93 217.12h2V226.22h-2zM585.69 207.8h2V217.12h-2zM591.19 205.08h2V210.77h-2zM593.94 201.2h2V205.08h-2zM599.44 174.66h2V202.82h-2zM602.19 174.14h2V174.84h-2zM607.69 169.28h2V180.05h-2zM615.95 167.15h2V171.95h-2zM621.45 165.53h2V169.45h-2zM624.2 156.13h2V165.53h-2zM629.7 145.12h2V157.88h-2zM632.45 144.77h2V145.47h-2zM635.2 140.65h2V145.12h-2zM643.46 163.77h2V166.34h-2zM657.21 164.08h2V178.81h-2zM662.71 161.7h2V167.8h-2zM668.22 166.83h2V168.13h-2zM670.97 166.23h2V166.93h-2zM673.72 159.67h2V166.34h-2zM676.47 155.38h2V159.67h-2zM679.22 147.99h2V155.38h-2zM681.97 145.27h2V147.99h-2zM684.72 139.82h2V145.27h-2zM690.22 130.76h2V141.34h-2zM698.48 142.31h2V145.98h-2zM701.23 136.83h2V142.31h-2zM706.73 139h2V140.24h-2zM709.48 138.65h2V139.35h-2zM717.73 149.58h2V150.31h-2zM725.99 147.7h2V158.74h-2zM728.74 145.27h2V147.7h-2zM734.24 140.24h2V145.41h-2zM736.99 137.24h2V140.24h-2zM739.74 136.82h2V137.52h-2zM745.24 136.62h2V137.32h-2zM750.75 138.73h2V141.76h-2zM753.5 136.16h2V138.73h-2z" fill="#4aa074" stroke="#1f4d39" stroke-width="0.5"/>
<path d="M5.23 428.76h2V430.24h-2zM10.73 427.22h2V430.64h-2zM16.23 429.73h2V430.64h-2zM21.73 429.48h2V430.57h-2zM27.23 430.3h2V431.29h-2zM29.98 431.29h2V432.4h-2zM40.99 431.03h2V431.88h-2zM51.99 424.28h2V425.32h-2zM63 402.19h2V403.85h-2zM76.75 391.64h2V401.9h-2zM82.25 399.49h2V400.19h-2zM90.51 392.11h2V394.48h-2zM96.01 392.24h2V393.33h-2zM101.51 390.5h2V397.38h-2zM109.76 391.73h2V392.43h-2zM120.77 385.19h2V389.77h-2zM123.52 389.77h2V392.38h-2zM129.02 390.9h2V395.44h-2zM134.52 393.25h2V393.95h-2zM140.02 392.45h2V398.22h-2zM145.53 396.27h2V398.5h-2zM151.03 395.31h2V396.2h-2zM156.53 392.92h2V393.73h-2zM162.03 390.1h2V397.38h-2zM164.78 397.38h2V415.35h-2zM170.28 410.74h2V415.35h-2zM178.54 412.18h2V415.97h-2zM192.29 411.12h2V412.87h-2zM203.3 403.31h2V404.01h-2zM206.05 403.46h2V404.16h-2zM211.55 401.76h2V403.99h-2zM214.3 403.99h2V411.5h-2zM219.8 409.83h2V414.34h-2zM225.31 406.7h2V407.44h-2zM233.56 406.18h2V407.36h-2zM239.06 405.23h2V406.11h-2zM241.81 406.11h2V408.48h-2zM244.56 408.47h2V409.17h-2zM247.31 408.99h2V409.69h-2zM255.57 405.89h2V408.78h-2zM274.82 395.38h2V396.89h-2zM277.57 396.58h2V397.28h-2zM283.08 395.79h2V398.29h-2zM302.33 376.56h2V377.26h-2zM307.83 374.9h2V375.99h-2zM316.09 368.8h2V373.04h-2zM327.09 366.8h2V367.5h-2zM329.84 367.35h2V369.67h-2zM340.85 347.18h2V347.88h-2zM343.6 347.56h2V355.43h-2zM349.1 348.63h2V350.22h-2zM351.85 349.98h2V350.68h-2zM362.85 340.16h2V342.65h-2zM365.61 342.65h2V343.79h-2zM384.86 318.59h2V321.07h-2zM387.61 320.94h2V321.64h-2zM393.12 314.91h2V318.51h-2zM395.87 318.51h2V332.48h-2zM398.62 332.18h2V332.88h-2zM409.62 310.5h2V318.17h-2zM417.88 312.57h2V319.1h-2zM426.13 313.14h2V314.79h-2zM428.88 314.79h2V322.02h-2zM434.38 320.08h2V322.63h-2zM437.13 322.63h2V324.55h-2zM461.89 280.19h2V282.7h-2zM464.64 282.7h2V287.82h-2zM470.14 280.36h2V284.37h-2zM481.15 263.54h2V264.81h-2zM503.16 228.7h2V233.58h-2zM516.91 195.56h2V197.25h-2zM519.66 197.25h2V205.54h-2zM522.41 205.54h2V217.12h-2zM525.16 217.12h2V223.78h-2zM533.42 201.6h2V211.63h-2zM536.17 211.63h2V214.9h-2zM538.92 214.9h2V215.65h-2zM544.42 212.15h2V215.25h-2zM547.17 215.25h2V217.16h-2zM549.92 217.16h2V239.64h-2zM555.42 228.7h2V233.08h-2zM566.43 231.12h2V241.71h-2zM577.43 222.76h2V228.22h-2zM588.44 207.8h2V210.77h-2zM596.69 201.2h2V202.82h-2zM604.94 174.32h2V180.05h-2zM610.44 169.28h2V171.28h-2zM613.2 171.26h2V171.96h-2zM618.7 167.15h2V169.45h-2zM626.95 156.13h2V157.88h-2zM637.95 140.65h2V150.31h-2zM640.71 150.31h2V166.34h-2zM646.21 163.77h2V172.29h-2zM648.96 172.29h2V175h-2zM651.71 174.91h2V175.61h-2zM654.46 175.52h2V178.81h-2zM659.96 164.08h2V167.8h-2zM665.47 161.7h2V168.13h-2zM687.47 139.82h2V141.34h-2zM692.98 130.76h2V136.57h-2zM695.73 136.57h2V145.98h-2zM703.98 136.83h2V140.24h-2zM712.23 139h2V140.92h-2zM714.98 140.92h2V150.31h-2zM720.49 149.58h2V155.68h-2zM723.24 155.68h2V158.74h-2zM731.49 144.99h2V145.69h-2zM742.49 136.86h2V137.56h-2zM748 136.62h2V141.76h-2zM756.25 136.16h2V139.22h-2zM759 139.22h2V144.24h-2z" fill="#d9503f" stroke="#74271f" stroke-width="0.5"/>
<polyline fill="none" stroke="#1f8a70" stroke-width="1.2" stroke-linejoin="round" points="3.47,429.89 6.23,429.93 8.98,429.67 11.73,429.76 14.48,429.76 17.23,429.84 19.98,429.81 22.73,429.88 25.48,429.92 28.23,430.05 30.98,430.27 33.73,430.44 36.49,430.55 39.24,430.6 41.99,430.72 44.74,430.46 47.49,429.98 50.24,429.43 52.99,429.03 55.74,428.42 58.49,427.49 61.25,424.9 64,422.77 66.75,420.6 69.5,418.65 72.25,416.56 75,414.01 77.75,412.82 80.5,411.5 83.25,410.38 86,408.57 88.75,406.93 91.51,405.7 94.26,404.37 97.01,403.28 99.76,402.02 102.51,401.57 105.26,400.92 108.01,400.05 110.76,399.28 113.51,398.47 116.27,397.67 119.02,396.44 121.77,395.79 124.52,395.46 127.27,395.02 130.02,395.06 132.77,394.9 135.52,394.8 138.27,394.57 141.02,394.92 143.77,395.04 146.53,395.37 149.28,395.36 152.03,395.44 154.78,395.2 157.53,395.06 160.28,394.58 163.03,394.85 165.78,396.69 168.53,397.97 171.28,399.55 174.04,400.87 176.79,401.91 179.54,403.2 182.29,404.24 185.04,405.02 187.79,405.66 190.54,406.17 193.29,406.8 196.04,406.87 198.8,406.79 201.55,406.48 204.3,406.22 207.05,405.99 209.8,405.58 212.55,405.43 215.3,406 218.05,406.36 220.8,407.1 223.55,407.06 226.31,407.1 229.06,407.07 231.81,406.99 234.56,407.02 237.31,406.85 240.06,406.78 242.81,406.94 245.56,407.15 248.31,407.38 251.06,407.41 253.81,407.27 256.57,407.41 259.32,407.44 262.07,407.11 264.82,406.63 267.57,405.85 270.32,405.04 273.07,404.1 275.82,403.4 278.57,402.77 281.32,402.09 284.08,401.73 286.83,401.34 289.58,400.8 292.33,399.98 295.08,399.02 297.83,396.98 300.58,394.93 303.33,393.15 306.08,391.32 308.83,389.79 311.59,388.38 314.34,386.41 317.09,385.09 319.84,383.68 322.59,382.29 325.34,380.76 328.09,379.44 330.84,378.48 333.59,377.08 336.34,375.67 339.1,372.76 341.85,370.18 344.6,368.72 347.35,366.69 350.1,365.05 352.85,363.59 355.6,361.88 358.35,359.71 361.1,357.74 363.85,356.24 366.61,355.01 369.36,353.15 372.11,350.54 374.86,348.11 377.61,345.91 380.36,343.13 383.11,340.63 385.86,338.66 388.61,336.94 391.37,334.7 394.12,333.09 396.87,333.03 399.62,332.99 402.37,332.43 405.12,331.52 407.87,329.4 410.62,328.29 413.37,326.92 416.12,325.49 418.88,324.87 421.63,323.91 424.38,322.85 427.13,322.06 429.88,322.06 432.63,321.87 435.38,321.94 438.13,322.19 440.88,321.77 443.63,321.09 446.38,320.4 449.14,319.64 451.89,317.42 454.64,314.27 457.39,311.25 460.14,308.01 462.89,305.42 465.64,303.66 468.39,301.29 471.14,299.59 473.89,297.73 476.65,295.37 479.4,292.05 482.15,289.24 484.9,286.22 487.65,283.33 490.4,279.83 493.15,276.64 495.9,273.57 498.65,269.17 501.4,264.84 504.16,261.59 506.91,257.59 509.66,252.54 512.41,246.75 515.16,241.1 517.91,236.36 520.66,233.15 523.41,231.55 526.16,230.8 528.91,228.58 531.67,225.8 534.42,224.39 537.17,223.47 539.92,222.7 542.67,221.67 545.42,221.05 548.17,220.67 550.92,222.38 553.67,222.97 556.42,223.91 559.18,224.69 561.93,225.41 564.68,225.94 567.43,227.38 570.18,227.32 572.93,226.89 575.68,226.49 578.43,226.65 581.18,226.61 583.93,225.68 586.69,223.89 589.44,222.59 592.19,220.84 594.94,218.86 597.69,217.26 600.44,212.67 603.19,208.59 605.94,205.64 608.69,201.8 611.44,198.62 614.2,195.88 616.95,192.91 619.7,190.52 622.45,187.96 625.2,184.64 627.95,181.89 630.7,178 633.45,174.55 636.2,170.99 638.95,168.9 641.71,168.66 644.46,168.19 647.21,168.57 649.96,169.17 652.71,169.77 655.46,170.61 658.21,169.97 660.96,169.77 663.71,168.98 666.47,168.9 669.22,168.7 671.97,168.47 674.72,167.61 677.47,166.41 680.22,164.56 682.97,162.62 685.72,160.3 688.47,158.39 691.22,155.54 693.98,153.63 696.73,152.89 699.48,151.85 702.23,150.36 704.98,149.37 707.73,148.35 710.48,147.43 713.23,146.8 715.98,147.13 718.73,147.37 721.49,148.14 724.24,149.12 726.99,148.98 729.74,148.62 732.49,148.32 735.24,147.53 737.99,146.52 740.74,145.6 743.49,144.79 746.24,143.99 749,143.78 751.75,143.29 754.5,142.6 757.25,142.27 760,142.46"/>
</g>
<path d="M815.5 27.6V474.1M3.4 107.4H856.5M3.4 456.3H856.5" stroke="#5e5a58" stroke-width="1" fill="none"/>
<path d="M815.5 114.05h2.3M815.5 133.9h2.3M815.5 156.59h2.3M815.5 181.29h2.3M815.5 204.26h2.3M815.5 231.12h2.3M815.5 251.95h2.3M815.5 275.93h2.3M815.5 296.64h2.3M815.5 320.47h2.3M815.5 338.61h2.3M815.5 359.1h2.3M815.5 377.64h2.3M815.5 398.64h2.3M815.5 419.61h2.3M815.5 440.1h2.3M815.5 43.4h2.3M815.5 66.9h2.3M815.5 90.4h2.3M75 456.3v3M160.28 456.3v3M242.81 456.3v3M328.09 456.3v3M410.62 456.3v3M495.9 456.3v3M581.18 456.3v3M658.21 456.3v3M743.49 456.3v3M793.01 456.3v3" stroke="#5e5a58" stroke-width="0.8" fill="none"/>
<rect x="3.4" y="27.6" width="853.1" height="446.5" fill="none" stroke="#979594" stroke-width="1"/>
<g style="font-family:'Liberation Sans',sans-serif">
<text x="821.2" y="116.65" font-size="7.9" fill="#4f4a47" textLength="27.8" lengthAdjust="spacingAndGlyphs">68000.00</text>
<text x="821.2" y="136.5" font-size="7.9" fill="#4f4a47" textLength="27.8" lengthAdjust="spacingAndGlyphs">60000.00</text>
<text x="821.2" y="159.19" font-size="7.9" fill="#4f4a47" textLength="27.8" lengthAdjust="spacingAndGlyphs">52000.00</text>
<text x="821.2" y="183.89" font-size="7.9" fill="#4f4a47" textLength="27.8" lengthAdjust="spacingAndGlyphs">44500.00</text>
<text x="821.2" y="206.86" font-size="7.9" fill="#4f4a47" textLength="27.8" lengthAdjust="spacingAndGlyphs">38500.00</text>
<text x="821.2" y="233.72" font-size="7.9" fill="#4f4a47" textLength="27.8" lengthAdjust="spacingAndGlyphs">32500.00</text>
<text x="821.2" y="254.55" font-size="7.9" fill="#4f4a47" textLength="27.8" lengthAdjust="spacingAndGlyphs">28500.00</text>
<text x="821.2" y="278.53" font-size="7.9" fill="#4f4a47" textLength="27.8" lengthAdjust="spacingAndGlyphs">24500.00</text>
<text x="821.2" y="299.24" font-size="7.9" fill="#4f4a47" textLength="27.8" lengthAdjust="spacingAndGlyphs">21500.00</text>
<text x="821.2" y="323.07" font-size="7.9" fill="#4f4a47" textLength="27.8" lengthAdjust="spacingAndGlyphs">18500.00</text>
<text x="821.2" y="341.21" font-size="7.9" fill="#4f4a47" textLength="27.8" lengthAdjust="spacingAndGlyphs">16500.00</text>
<text x="821.2" y="361.7" font-size="7.9" fill="#4f4a47" textLength="27.8" lengthAdjust="spacingAndGlyphs">14500.00</text>
<text x="821.2" y="380.24" font-size="7.9" fill="#4f4a47" textLength="27.8" lengthAdjust="spacingAndGlyphs">12900.00</text>
<text x="821.2" y="401.24" font-size="7.9" fill="#4f4a47" textLength="27.8" lengthAdjust="spacingAndGlyphs">11300.00</text>
<text x="821.2" y="422.21" font-size="7.9" fill="#4f4a47" textLength="24.1" lengthAdjust="spacingAndGlyphs">9900.00</text>
<text x="821.2" y="442.7" font-size="7.9" fill="#4f4a47" textLength="24.1" lengthAdjust="spacingAndGlyphs">8700.00</text>
<text x="821.2" y="46" font-size="7.9" fill="#4f4a47" textLength="17" lengthAdjust="spacingAndGlyphs">80.00</text>
<text x="821.2" y="69.5" font-size="7.9" fill="#4f4a47" textLength="17" lengthAdjust="spacingAndGlyphs">60.00</text>
<text x="821.2" y="93" font-size="7.9" fill="#4f4a47" textLength="17" lengthAdjust="spacingAndGlyphs">40.00</text>
<text x="75" y="468" font-size="7.9" fill="#4f4a47" text-anchor="middle" textLength="12.37" lengthAdjust="spacingAndGlyphs">Aug</text>
<text x="160.28" y="468" font-size="7.9" fill="#4f4a47" text-anchor="middle" textLength="12.37" lengthAdjust="spacingAndGlyphs">Sep</text>
<text x="242.81" y="468" font-size="7.9" fill="#4f4a47" text-anchor="middle" textLength="10.81" lengthAdjust="spacingAndGlyphs">Oct</text>
<text x="328.09" y="468" font-size="7.9" fill="#4f4a47" text-anchor="middle" textLength="12.36" lengthAdjust="spacingAndGlyphs">Nov</text>
<text x="410.62" y="468" font-size="7.9" fill="#4f4a47" text-anchor="middle" textLength="12.36" lengthAdjust="spacingAndGlyphs">Dec</text>
<text x="495.9" y="468" font-size="7.9" fill="#4f4a47" font-weight="bold" text-anchor="middle" textLength="17.05" lengthAdjust="spacingAndGlyphs">2021</text>
<text x="581.18" y="468" font-size="7.9" fill="#4f4a47" text-anchor="middle" textLength="11.98" lengthAdjust="spacingAndGlyphs">Feb</text>
<text x="658.21" y="468" font-size="7.9" fill="#4f4a47" text-anchor="middle" textLength="11.97" lengthAdjust="spacingAndGlyphs">Mar</text>
<text x="743.49" y="468" font-size="7.9" fill="#4f4a47" text-anchor="middle" textLength="10.82" lengthAdjust="spacingAndGlyphs">Apr</text>
<text x="793.01" y="468" font-size="7.9" fill="#4f4a47" text-anchor="middle" textLength="7.73" lengthAdjust="spacingAndGlyphs">19</text>
</g>
<rect x="826.4" y="111.6" width="18.6" height="9.7" rx="2" fill="#f4e5d8" stroke="#ddd6dc" stroke-width="0.8"/>
<g style="font-family:'Liberation Sans',sans-serif">
<text x="829.4" y="119.4" font-size="7.8" fill="#4f4a47" textLength="12" lengthAdjust="spacingAndGlyphs">USD</text>
</g>
<rect x="783.4" y="139.1" width="30.6" height="9.9" rx="1.2" fill="#d8524a"/>
<rect x="815" y="139.1" width="37.9" height="17.7" rx="1.2" fill="#d8524a"/>
<path d="M815.8 143.8h2" stroke="#fbe3df" stroke-width="0.8"/>
<g style="font-family:'Liberation Sans',sans-serif">
<text x="786.3" y="146.6" font-size="7.9" fill="#fdf3f0" textLength="24.1" lengthAdjust="spacingAndGlyphs">BTCUSD</text>
<text x="821.6" y="146.6" font-size="7.9" fill="#fdf3f0" textLength="27.7" lengthAdjust="spacingAndGlyphs">56212.09</text>
<text x="821.6" y="154.6" font-size="7.2" fill="#fbe6e2" textLength="25.3" lengthAdjust="spacingAndGlyphs">05:56:51</text>
</g>
<g style="font-family:'Liberation Sans',sans-serif">
<text x="9.5" y="41.2" font-size="8.5" fill="#4f4a47" textLength="49.5" lengthAdjust="spacingAndGlyphs">RSI (14, close)</text>
<text x="9.7" y="120.1" font-size="8.5" fill="#3f3b39" font-weight="bold" textLength="128.3" lengthAdjust="spacingAndGlyphs">Bitcoin / U.S. Dollar, 1D, COINBASE</text>
<text x="9.7" y="131.3" font-size="8.5" fill="#4f4a47" textLength="11.3" lengthAdjust="spacingAndGlyphs">Vol</text>
<text x="9.7" y="141.9" font-size="8.5" fill="#4f4a47" textLength="50.8" lengthAdjust="spacingAndGlyphs">MA (50, close)</text>
<text x="9.7" y="152.7" font-size="8.5" fill="#4f4a47" textLength="64.2" lengthAdjust="spacingAndGlyphs">MA (200, close, 0)</text>
<text x="9.7" y="163.6" font-size="8.5" fill="#4f4a47" textLength="64.2" lengthAdjust="spacingAndGlyphs">EMA (20, close, 0)</text>
</g>
<g style="font-family:'Liberation Sans',sans-serif">
<text x="4.1" y="10.4" font-size="8.5" fill="#1f1f1f" font-weight="bold" textLength="49.9" lengthAdjust="spacingAndGlyphs">bitcoinwallah</text>
<text x="57.1" y="10.4" font-size="8.5" fill="#333333" textLength="216.2" lengthAdjust="spacingAndGlyphs">published on TradingView.com, April 07, 2021 18:03:11 UTC</text>
<text x="4.1" y="21.7" font-size="8.5" fill="#1f1f1f" font-weight="bold" textLength="83.7" lengthAdjust="spacingAndGlyphs">COINBASE:BTCUSD, 1D</text>
<text x="92.2" y="21.7" font-size="8.5" fill="#333333" textLength="32.2" lengthAdjust="spacingAndGlyphs">56212.09</text>
<path d="M126.5 16.1h6.5l-3.25 5z" fill="#e9544b"/>
<text x="136" y="21.7" font-size="8.5" fill="#333333" textLength="33" lengthAdjust="spacingAndGlyphs">&#8722;1807.89</text>
<text x="171.9" y="21.7" font-size="8.5" fill="#333333" textLength="31" lengthAdjust="spacingAndGlyphs">(&#8722;3.12%)</text>
<text x="205.9" y="21.7" font-size="8.5" fill="#1f1f1f" font-weight="bold" textLength="7.5" lengthAdjust="spacingAndGlyphs">O:</text>
<text x="214" y="21.7" font-size="8.5" fill="#e9544b" textLength="33.6" lengthAdjust="spacingAndGlyphs">58021.67</text>
<text x="251.4" y="21.7" font-size="8.5" fill="#1f1f1f" font-weight="bold" textLength="7.6" lengthAdjust="spacingAndGlyphs">H:</text>
<text x="259.6" y="21.7" font-size="8.5" fill="#e9544b" textLength="33.7" lengthAdjust="spacingAndGlyphs">58630.00</text>
<text x="296" y="21.7" font-size="8.5" fill="#1f1f1f" font-weight="bold" textLength="5.5" lengthAdjust="spacingAndGlyphs">L:</text>
<text x="302.2" y="21.7" font-size="8.5" fill="#e9544b" textLength="34" lengthAdjust="spacingAndGlyphs">55609.00</text>
<text x="339.7" y="21.7" font-size="8.5" fill="#1f1f1f" font-weight="bold" textLength="6.3" lengthAdjust="spacingAndGlyphs">C:</text>
<text x="346.6" y="21.7" font-size="8.5" fill="#e9544b" textLength="33.4" lengthAdjust="spacingAndGlyphs">56212.09</text>
</g>
<g transform="translate(3.7,481.5)"><path d="M3.2 9.6C1.4 9.6 0 8.3 0 6.6 0 5 1.2 3.7 2.8 3.6 3.3 1.5 5.2 0 7.4 0 9.3 0 11 1.1 11.8 2.8 12 2.8 12.2 2.7 12.5 2.7 14.5 2.7 16.2 4.3 16.2 6.2 16.2 8.1 14.6 9.6 12.7 9.6Z" fill="#2e8de8"/><path d="M1.2 8.2L5.6 3.9 9.3 7.2 14.4 4.1" stroke="#fff" stroke-width="1.1" fill="none"/><circle cx="5.6" cy="3.9" r="0.9" fill="#fff"/><circle cx="9.3" cy="7.2" r="0.9" fill="#fff"/></g>
<g style="font-family:'Liberation Sans',sans-serif">
<text x="21.4" y="489.3" font-size="8.6" fill="#3a3a3a" textLength="45.2" lengthAdjust="spacingAndGlyphs">TradingView</text>
</g>
</svg>
</body></html>
